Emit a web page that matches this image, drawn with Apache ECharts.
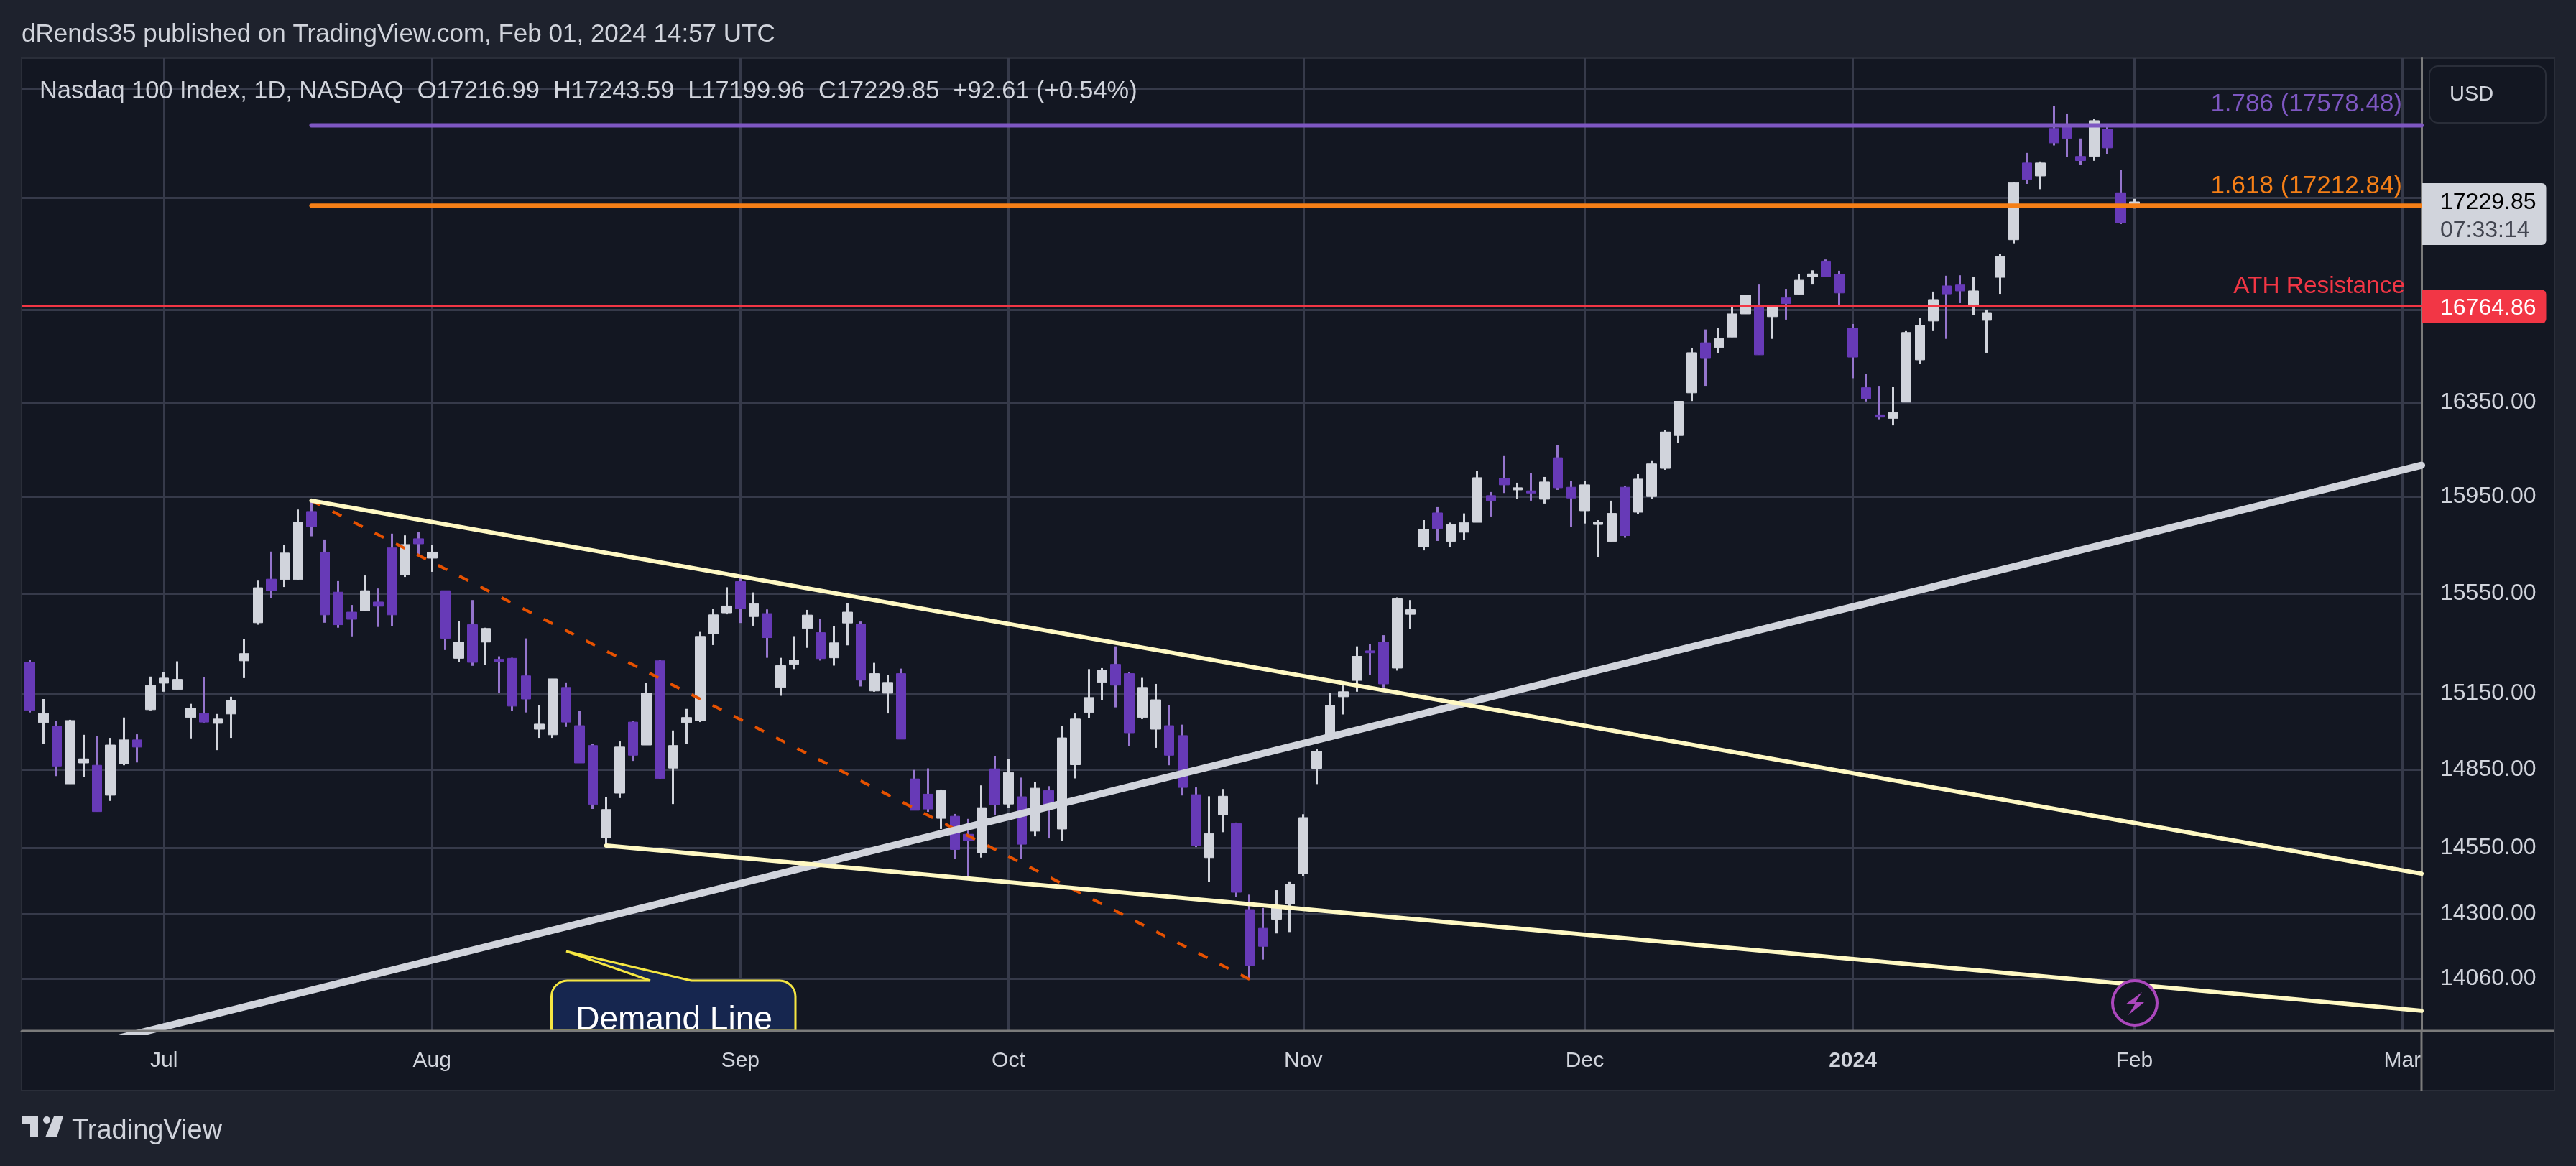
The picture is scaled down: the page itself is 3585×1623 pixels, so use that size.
<!DOCTYPE html>
<html>
<head>
<meta charset="utf-8">
<title>Nasdaq 100 Index</title>
<script src="https://cdn.jsdelivr.net/npm/echarts@6/dist/echarts.min.js"></script>
<style>
  html, body { margin: 0; padding: 0; background: #1e222d; }
  #chart { width: 3585px; height: 1623px; }
</style>
</head>
<body>
<div id="chart"></div>
<script>
// daily bars, 16 Jun 2023 (index 0) to 1 Feb 2024 (index 157)
const opens = [
  15274, 15035, 15021, 14796, 14877, 14868, 14752, 14873, 14967, 15086,
  15191, 15166, 15055, 15071, 15032, 15069, 15280, 15433, 15610, 15608,
  15608, 15889, 15721, 15557, 15476, 15482, 15517, 15738, 15628, 15776,
  15696, 15563, 15290, 15425, 15355, 15286, 15290, 15220, 15009, 14987,
  15174, 15023, 14945, 14589, 14760, 15037, 14947, 15280, 14857, 15035,
  15043, 15388, 15473, 15600, 15458, 15470, 15174, 15266, 15410, 15393,
  15292, 15432, 15427, 15160, 15151, 15229, 14815, 14756, 14663, 14671,
  14602, 14531, 14854, 14718, 14746, 14614, 14770, 14622, 14870, 15075,
  15194, 15266, 15229, 15055, 15009, 15023, 14984, 14754, 14513, 14677,
  14643, 14317, 14247, 14281, 14338, 14452, 14856, 14985, 15137, 15202,
  15320, 15355, 15251, 15467, 15743, 15883, 15765, 15803, 15844, 15955,
  16027, 15979, 15975, 15940, 16114, 15990, 15892, 15835, 15765, 15990,
  15886, 15951, 16069, 16208, 16390, 16606, 16585, 16631, 16732, 16768,
  16720, 16802, 16818, 16896, 16965, 16906, 16670, 16412, 16296, 16281,
  16350, 16532, 16701, 16855, 16859, 16773, 16704, 16893, 17060, 17406,
  17347, 17564, 17575, 17436, 17436, 17561, 17271, 17216.99
];
const highs = [
  15285, 15128, 15041, 15046, 14987, 14982, 14975, 15055, 14989, 15217,
  15235, 15278, 15109, 15214, 15069, 15137, 15367, 15604, 15723, 15750,
  15897, 15933, 15773, 15602, 15505, 15625, 15572, 15797, 15790, 15805,
  15750, 15563, 15439, 15525, 15413, 15298, 15292, 15370, 15105, 15208,
  15194, 15080, 14952, 14746, 14961, 15041, 15191, 15284, 15004, 15089,
  15396, 15488, 15577, 15619, 15556, 15487, 15292, 15379, 15485, 15450,
  15418, 15513, 15438, 15272, 15223, 15249, 14850, 14856, 14774, 14680,
  14661, 14790, 14904, 14892, 14820, 14803, 14787, 15023, 15071, 15247,
  15251, 15338, 15234, 15212, 15188, 15105, 15027, 14782, 14748, 14776,
  14647, 14373, 14323, 14390, 14423, 14679, 14931, 15151, 15182, 15338,
  15347, 15383, 15536, 15525, 15853, 15907, 15843, 15881, 16060, 15970,
  16121, 16009, 16048, 16033, 16169, 16015, 16015, 15853, 15934, 15994,
  16045, 16103, 16232, 16354, 16582, 16664, 16672, 16762, 16814, 16861,
  16767, 16842, 16908, 16924, 16972, 16922, 16688, 16472, 16420, 16417,
  16657, 16713, 16830, 16900, 16902, 16896, 16751, 16998, 17319, 17452,
  17413, 17666, 17633, 17518, 17607, 17585, 17376, 17243.59
];
const lows = [
  15075, 14950, 14826, 14796, 14824, 14689, 14730, 14868, 14879, 15083,
  15157, 15166, 14973, 15035, 14927, 14975, 15211, 15425, 15534, 15578,
  15608, 15786, 15433, 15413, 15378, 15482, 15416, 15419, 15619, 15707,
  15640, 15323, 15274, 15260, 15263, 15151, 15080, 15075, 14975, 14975,
  15018, 14877, 14699, 14563, 14741, 14885, 14947, 14816, 14718, 14950,
  15037, 15343, 15467, 15432, 15421, 15292, 15141, 15247, 15332, 15281,
  15261, 15342, 15178, 15157, 15071, 14970, 14694, 14688, 14622, 14507,
  14442, 14513, 14675, 14704, 14507, 14594, 14586, 14577, 14817, 15052,
  15123, 15095, 14944, 15049, 14936, 14868, 14751, 14553, 14421, 14610,
  14363, 14061, 14131, 14228, 14233, 14444, 14795, 14967, 15067, 15157,
  15223, 15174, 15241, 15407, 15728, 15767, 15741, 15771, 15844, 15868,
  15966, 15942, 15934, 15922, 15979, 15826, 15839, 15699, 15765, 15780,
  15877, 15940, 16063, 16178, 16355, 16420, 16560, 16631, 16732, 16554,
  16623, 16707, 16818, 16861, 16893, 16768, 16453, 16353, 16277, 16251,
  16350, 16516, 16657, 16623, 16779, 16728, 16563, 16820, 17044, 17311,
  17287, 17486, 17432, 17399, 17416, 17445, 17130, 17199.96
];
const closes = [
  15083, 15071, 14865, 15043, 14893, 14689, 14947, 14967, 14939, 15182,
  15211, 15206, 15091, 15037, 15049, 15123, 15309, 15575, 15563, 15717,
  15844, 15826, 15465, 15425, 15447, 15563, 15500, 15465, 15752, 15755,
  15721, 15370, 15355, 15274, 15410, 15278, 15100, 15128, 15029, 15208,
  15037, 14877, 14716, 14697, 14939, 14907, 15151, 14816, 14945, 15055,
  15378, 15465, 15501, 15490, 15510, 15373, 15261, 15283, 15464, 15289,
  15352, 15476, 15203, 15229, 15194, 14970, 14694, 14699, 14770, 14544,
  14577, 14704, 14715, 14840, 14564, 14779, 14715, 14975, 15049, 15134,
  15243, 15183, 14995, 15174, 15125, 14907, 14782, 14559, 14605, 14748,
  14382, 14109, 14180, 14325, 14412, 14666, 14922, 15103, 15157, 15298,
  15312, 15188, 15530, 15486, 15815, 15818, 15835, 15842, 16030, 15934,
  16000, 15988, 15966, 16012, 15988, 15945, 16000, 15844, 15881, 15789,
  16024, 16088, 16223, 16354, 16563, 16538, 16625, 16732, 16814, 16554,
  16767, 16777, 16880, 16908, 16896, 16824, 16544, 16365, 16286, 16305,
  16651, 16682, 16795, 16820, 16833, 16833, 16738, 16984, 17317, 17331,
  17406, 17498, 17518, 17417, 17600, 17475, 17136, 17229.85
];

const monthTicks = [10, 30, 53, 73, 95, 116, 136, 157, 177];
const monthLabels = ['Jul', 'Aug', 'Sep', 'Oct', 'Nov', 'Dec', '2024', 'Feb', 'Mar'];
const gridPrices = [17750, 17250, 16750, 16350, 15950, 15550, 15150, 14850, 14550, 14300, 14060];
const labelPrices = [16350, 15950, 15550, 15150, 14850, 14550, 14300, 14060];

const fib1786 = 17578.48;
const fib1618 = 17212.84;
const athLevel = 16764.86;
const lastClose = 17229.85;

// drawn lines, [bar index, price]
const upperWedge = [[21, 15934], [178.43, 14452]];
const lowerWedge = [[43, 14559], [178.43, 13943]];
const demandLine = [[6, 13836], [178.43, 16082]];
const swingLine = [[21, 15934], [91, 14058]];

const FONT = '"Liberation Sans"';
const TEXT = '#d1d4dc';
const PANEL = '#131722';
const GRIDLINE = '#363a4a';
const AXISLINE = '#7b7b7b';
const BULL = '#d1d4dc';
const BEAR = '#673ab7';
const BEAR_WICK = '#9575cd';

const chart = echarts.init(document.getElementById('chart'));

function trendLine(name, points, color, width, extra) {
  return {
    name: name,
    type: 'line',
    data: points,
    showSymbol: false,
    silent: true,
    animation: false,
    clip: true,
    lineStyle: Object.assign({ color: color, width: width, cap: 'round' }, extra || {})
  };
}

chart.setOption({
  backgroundColor: '#1e222d',
  animation: false,
  grid: { left: 30, top: 81, width: 3340, height: 1354, containLabel: false },
  xAxis: {
    type: 'value',
    min: -0.627,
    max: 178.43,
    axisLine: { onZero: false, lineStyle: { color: AXISLINE, width: 3 } },
    axisTick: { show: false, customValues: monthTicks },
    splitLine: { show: true, lineStyle: { color: GRIDLINE, width: 3 } },
    axisLabel: {
      customValues: monthTicks,
      color: TEXT,
      fontFamily: FONT,
      fontSize: 30,
      margin: 27,
      hideOverlap: false,
      formatter: function (v) {
        const name = monthLabels[monthTicks.indexOf(v)];
        return name === '2024' ? '{b|2024}' : name;
      },
      rich: { b: { color: TEXT, fontFamily: FONT, fontSize: 30, fontWeight: 'bold' } }
    }
  },
  yAxis: {
    type: 'log',
    position: 'right',
    min: 13869.5,
    max: 17890,
    axisLine: { show: true, onZero: false, lineStyle: { color: AXISLINE, width: 3 } },
    axisTick: { show: false, customValues: gridPrices },
    splitLine: { show: true, lineStyle: { color: GRIDLINE, width: 3 } },
    axisLabel: {
      customValues: labelPrices,
      color: TEXT,
      fontFamily: FONT,
      fontSize: 32,
      margin: 26,
      padding: [4, 0, 0, 0],
      formatter: function (v) { return Number(v).toFixed(2); }
    }
  },
  series: [
    // wicks are lighter than the bodies, so the two go in separate passes
    {
      name: 'Wicks',
      type: 'candlestick',
      barWidth: 1,
      silent: true,
      animation: false,
      itemStyle: { color: BULL, color0: BEAR_WICK, borderColor: BULL, borderColor0: BEAR_WICK, borderWidth: 3 },
      data: opens.map(function (o, i) { return [i, o, closes[i], lows[i], highs[i]]; })
    },
    {
      name: 'Nasdaq 100 Index',
      type: 'candlestick',
      barWidth: 14,
      silent: true,
      animation: false,
      itemStyle: { color: BULL, color0: BEAR, borderColor: BULL, borderColor0: BEAR, borderWidth: 1 },
      data: opens.map(function (o, i) {
        const c = closes[i];
        return [i, o, c, Math.min(o, c), Math.max(o, c)];
      })
    },
    trendLine('Swing', swingLine, '#e65100', 4, { type: [14, 19], cap: 'butt' }),
    trendLine('Demand', demandLine, '#d1d4dc', 10),
    trendLine('Upper', upperWedge, '#fff9c4', 6),
    trendLine('Lower', lowerWedge, '#fff9c4', 6),
    trendLine('1.786', [[21, fib1786], [178.43, fib1786]], '#7e57c2', 6),
    trendLine('1.618', [[21, fib1618], [178.43, fib1618]], '#f57f17', 6),
    trendLine('ATH', [[-0.627, athLevel], [178.43, athLevel]], '#f23645', 3, { cap: 'butt' })
  ]
});

// overlays sit on the price scale, so take their y from the chart
const yOf = function (v) { return chart.convertToPixel({ yAxisIndex: 0 }, v); };

function label(text, x, y, color, size, align, weight) {
  return {
    type: 'text',
    z: 120,
    silent: true,
    style: {
      text: text, x: x, y: y, fill: color,
      font: (weight || 'normal') + ' ' + size + 'px ' + FONT,
      textAlign: align || 'left',
      textVerticalAlign: 'middle'
    }
  };
}

const lastY = yOf(lastClose);
const athY = yOf(athLevel);

chart.setOption({
  graphic: [
    { type: 'rect', z: -1, silent: true, shape: { x: 30, y: 81, width: 3525, height: 1437 },
      style: { fill: PANEL, stroke: '#2a2e39', lineWidth: 2 } },

    // Demand Line callout, cut off by the time axis
    { type: 'rect', z: 55, silent: true, shape: { x: 767.5, y: 1365, width: 339.5, height: 70, r: [22, 22, 0, 0] },
      style: { fill: '#16264f', stroke: '#f5e642', lineWidth: 3 } },
    { type: 'polygon', z: 56, silent: true, shape: { points: [[788, 1324], [905, 1365], [905, 1368], [962, 1368], [962, 1365]] },
      style: { fill: '#16264f' } },
    { type: 'polyline', z: 57, silent: true, shape: { points: [[905, 1365], [788, 1324], [962, 1365]] },
      style: { stroke: '#f5e642', lineWidth: 3, fill: null } },
    label('Demand Line', 938, 1420, '#ffffff', 46, 'center'),

    // axis frame runs on past the plot
    { type: 'line', z: 125, silent: true, shape: { x1: 3370, y1: 1435, x2: 3370, y2: 1518 }, style: { stroke: AXISLINE, lineWidth: 3 } },
    { type: 'line', z: 125, silent: true, shape: { x1: 30, y1: 1435, x2: 3555, y2: 1435 }, style: { stroke: AXISLINE, lineWidth: 3 } },
    // hides the bottom of the Demand Line text below the axis
    { type: 'rect', z: 121, silent: true, shape: { x: 760, y: 1436, width: 360, height: 20 }, style: { fill: PANEL } },

    label('dRends35 published on TradingView.com, Feb 01, 2024 14:57 UTC', 30, 48, TEXT, 35),
    label('Nasdaq 100 Index, 1D, NASDAQ  O17216.99  H17243.59  L17199.96  C17229.85  +92.61 (+0.54%)', 55, 128, TEXT, 34.4),

    label('1.786 (' + fib1786.toFixed(2) + ')', 3343, 145, '#7e57c2', 35, 'right'),
    label('1.618 (' + fib1618.toFixed(2) + ')', 3343, 259, '#f57f17', 35, 'right'),
    label('ATH Resistance', 3347, 399, '#f23645', 33.4, 'right'),

    // currency button
    { type: 'rect', z: 110, silent: true, shape: { x: 3381, y: 92, width: 162, height: 79, r: 12 },
      style: { fill: PANEL, stroke: '#2a2e39', lineWidth: 2 } },
    label('USD', 3409, 132, TEXT, 29),

    // price tags
    { type: 'rect', z: 110, silent: true, shape: { x: 3370, y: lastY - 26, width: 173.5, height: 86, r: [0, 6, 6, 0] }, style: { fill: '#d1d4dc' } },
    label(lastClose.toFixed(2), 3396, lastY + 1, '#000000', 32),
    label('07:33:14', 3396, lastY + 40, '#434651', 32),
    { type: 'rect', z: 110, silent: true, shape: { x: 3370, y: athY - 23, width: 173.5, height: 46.5, r: [0, 6, 6, 0] }, style: { fill: '#f23645' } },
    label(athLevel.toFixed(2), 3396, athY + 3, '#ffffff', 32),

    // lightning marker on the last bar
    { type: 'circle', z: 70, silent: true, shape: { cx: 2971, cy: 1396, r: 31 },
      style: { fill: PANEL, stroke: '#ab47bc', lineWidth: 4 } },
    { type: 'polygon', z: 71, silent: true,
      shape: { points: [[2981, 1381], [2958, 1398], [2971, 1398], [2962, 1413], [2984, 1395], [2972, 1395]] },
      style: { fill: '#ab47bc' } },

    // TradingView mark
    { type: 'polygon', z: 120, silent: true, shape: { points: [[30, 1554], [53, 1554], [53, 1583], [42, 1583], [42, 1565], [30, 1565]] }, style: { fill: TEXT } },
    { type: 'circle', z: 120, silent: true, shape: { cx: 65, cy: 1559, r: 5 }, style: { fill: TEXT } },
    { type: 'polygon', z: 120, silent: true, shape: { points: [[75, 1554], [88, 1554], [79, 1583], [63, 1583]] }, style: { fill: TEXT } },
    label('TradingView', 100, 1575, TEXT, 38)
  ]
});
</script>
</body>
</html>
